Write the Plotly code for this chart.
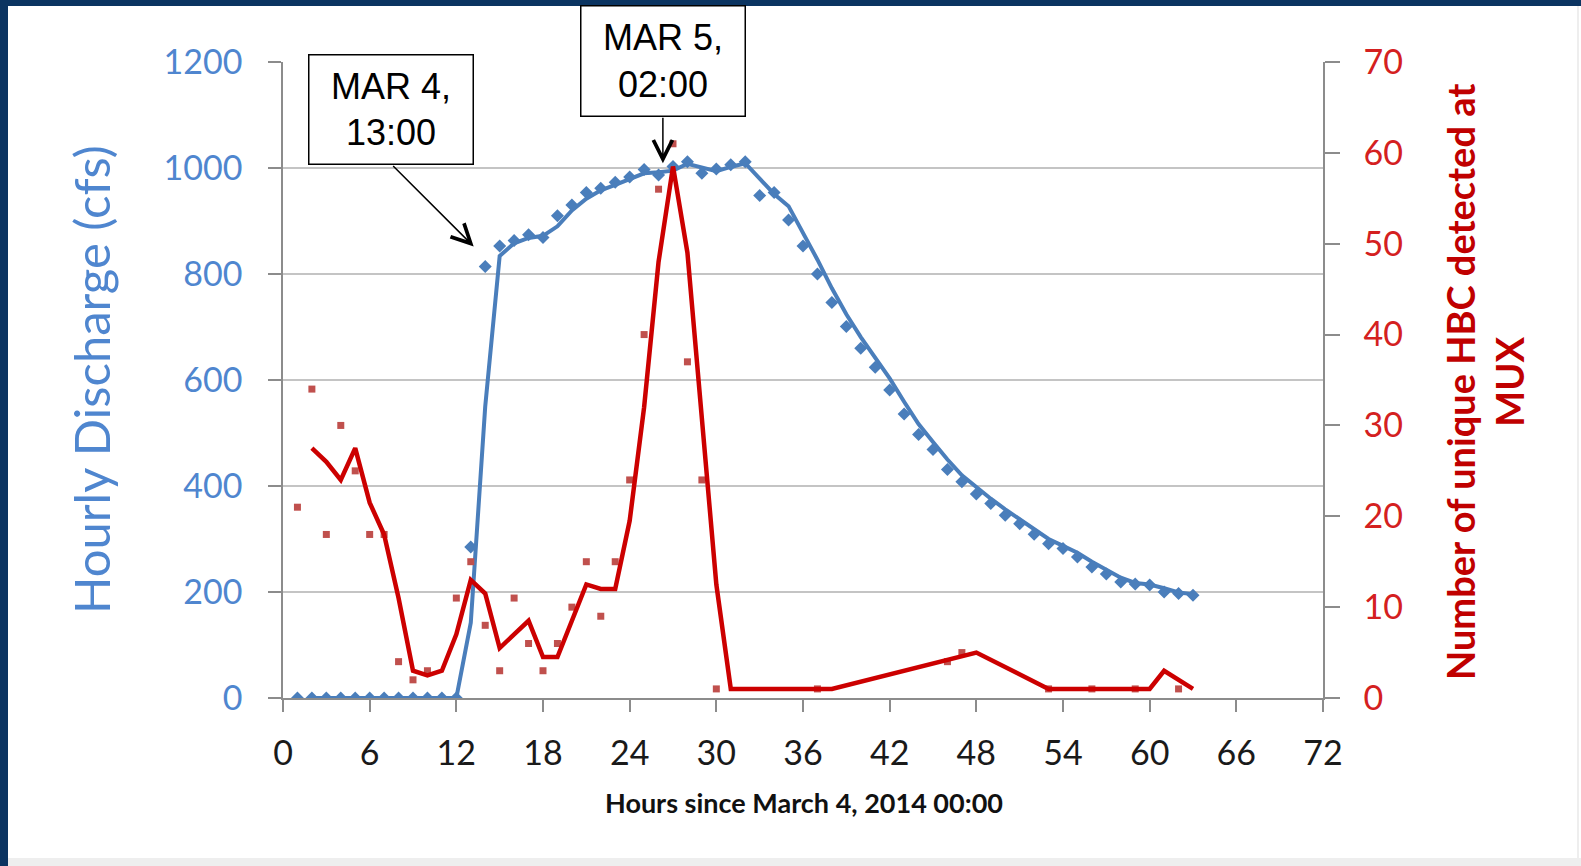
import plotly.graph_objects as go

# Hourly discharge (cfs), points every hour 1..63
discharge_hours = list(range(1, 64))
discharge_cfs = [
    0, 0, 0, 0, 0, 0, 0, 0, 0, 0, 0, 0,
    285, 814, 853, 863, 874, 869, 910, 930, 954, 962, 973, 983, 997, 987,
    1003, 1012, 990, 998, 1006, 1012, 948, 954, 902, 853, 800, 746, 701,
    660, 624, 581, 536, 497, 469, 431, 408, 385, 367, 345, 329, 309, 291,
    282, 266, 247, 234, 219, 215, 213, 200, 197, 194,
]

# 2-period moving average line of discharge
discharge_avg_hours = list(range(2, 64))
discharge_avg_cfs = [
    0, 0, 0, 0, 0, 0, 0, 0, 0, 0, 0,
    142, 550, 834, 858, 868, 872, 890, 920, 942, 958, 968, 978, 990, 992,
    995, 1008, 1001, 994, 1002, 1009, 980, 951, 928, 878, 827, 773, 724,
    681, 642, 603, 559, 517, 483, 450, 420, 397, 376, 356, 337, 319, 300,
    287, 274, 257, 241, 227, 217, 214, 207, 199, 196,
]

# Unique HBC detected at MUX
hbc_hours = [1, 2, 3, 4, 5, 6, 7, 8, 9, 10, 12, 13, 14, 15, 16, 17, 18, 19,
             20, 21, 22, 23, 24, 25, 26, 27, 28, 29, 30, 37, 46, 47, 53, 56,
             59, 62]
hbc_count = [21, 34, 18, 30, 25, 18, 18, 4, 2, 3, 11, 15, 8, 3, 11, 6, 3, 6,
             10, 15, 9, 15, 24, 40, 56, 61, 37, 24, 1, 1, 4, 5, 1, 1, 1, 1]

# moving average line of HBC counts
hbc_avg_hours = [2, 3, 4, 5, 6, 7, 8, 9, 10, 11, 12, 13, 14, 15, 16, 17, 18,
                 19, 20, 21, 22, 23, 24, 25, 26, 27, 28, 29, 30, 31, 37, 38,
                 48, 53, 56, 59, 60, 61, 63]
hbc_avg_count = [27.5, 26, 24, 27.5, 21.5, 18, 11, 3, 2.5, 3, 7, 13, 11.5,
                 5.5, 7, 8.5, 4.5, 4.5, 8.5, 12.5, 12, 12, 19.5, 32, 48, 58.5,
                 49, 30.5, 12.5, 1, 1, 1, 5, 1, 1, 1, 1, 3, 1]

W, H = 1581, 866
ML, MR, MT, MB = 283, 258, 62, 168
PW, PH = W - ML - MR, H - MT - MB


def px(x):
    return (x - ML) / PW


def py(y):
    return (H - MB - y) / PH


BLUE = "#4a7ebb"
BLUE_TXT = "#4f86cf"
RED = "#cc0000"
RED_PT = "#c0504d"
TICK_FONT = "Lato, Calibri, sans-serif"

fig = go.Figure()

fig.add_trace(go.Scatter(
    x=discharge_avg_hours, y=discharge_avg_cfs, mode="lines",
    line=dict(color=BLUE, width=4), showlegend=False,
))
fig.add_trace(go.Scatter(
    x=discharge_hours, y=discharge_cfs, mode="markers",
    marker=dict(symbol="diamond", size=10, color=BLUE), showlegend=False,
))
fig.add_trace(go.Scatter(
    x=hbc_hours, y=hbc_count, mode="markers", yaxis="y2",
    marker=dict(symbol="square", size=7, color=RED_PT), showlegend=False,
))
fig.add_trace(go.Scatter(
    x=hbc_avg_hours, y=hbc_avg_count, mode="lines", yaxis="y2",
    line=dict(color=RED, width=4.5), showlegend=False,
))

shapes = [
    dict(type="rect", xref="paper", yref="paper", x0=px(0), x1=px(W),
         y0=py(6), y1=py(0), fillcolor="#0b3461", line_width=0, layer="above"),
    dict(type="rect", xref="paper", yref="paper", x0=px(0), x1=px(8),
         y0=py(H), y1=py(0), fillcolor="#0b3461", line_width=0, layer="above"),
    dict(type="rect", xref="paper", yref="paper", x0=px(8), x1=px(W),
         y0=py(H), y1=py(858), fillcolor="#eeeeee", line_width=0),
    dict(type="line", xref="paper", yref="paper", x0=px(1578), x1=px(1578),
         y0=py(858), y1=py(6), line=dict(color="#dddddd", width=1)),
]

annotations = [
    dict(xref="paper", yref="paper", x=px(91), y=0.5, text="Hourly Discharge (cfs)",
         textangle=-90, showarrow=False, xanchor="center", yanchor="middle",
         font=dict(family=TICK_FONT, size=49, color=BLUE_TXT)),
    dict(xref="paper", yref="paper", x=px(1484), y=py(382),
         text="<b>Number of unique HBC detected at<br>MUX</b>",
         textangle=-90, showarrow=False, xanchor="center", yanchor="middle",
         font=dict(family=TICK_FONT, size=38, color="#c00000")),
    dict(xref="paper", yref="paper", x=px(804), y=py(803),
         text="<b>Hours since March 4, 2014 00:00</b>",
         showarrow=False, xanchor="center", yanchor="middle",
         font=dict(family=TICK_FONT, size=27, color="#111111")),
    dict(xref="paper", yref="paper", x=px(390.8), y=py(110), text="MAR 4,<br>13:00",
         showarrow=False, xanchor="center", yanchor="middle", width=163, height=108,
         bordercolor="black", borderwidth=1.5, borderpad=0, bgcolor="white",
         font=dict(family="Liberation Sans, Arial", size=36, color="black")),
    dict(xref="paper", yref="paper", x=px(663.3), y=py(60.5), text="MAR 5,<br>02:00",
         showarrow=False, xanchor="center", yanchor="middle", width=163, height=109,
         bordercolor="black", borderwidth=1.5, borderpad=0, bgcolor="white",
         font=dict(family="Liberation Sans, Arial", size=36, color="black")),
    dict(x=13.2, y=852, xref="x", yref="y", text="", showarrow=True,
         ax=-82, ay=-82, arrowhead=5, arrowsize=2.5, arrowwidth=1.5,
         arrowcolor="black", standoff=0),
    dict(x=26.3, y=1009, xref="x", yref="y", text="", showarrow=True,
         ax=0, ay=-47, arrowhead=5, arrowsize=2.5, arrowwidth=1.5,
         arrowcolor="black", standoff=0),
]

fig.update_layout(
    width=W, height=H,
    margin=dict(l=ML, r=MR, t=MT, b=MB, pad=0),
    paper_bgcolor="white", plot_bgcolor="white",
    showlegend=False,
    xaxis=dict(
        range=[0, 72], dtick=6, tick0=0, showgrid=False, zeroline=False,
        showline=True, linecolor="#8c8c8c", linewidth=1.5,
        ticks="outside", ticklen=12, tickcolor="#8c8c8c", tickwidth=1.5,
        ticklabelstandoff=12,
        tickfont=dict(family=TICK_FONT, size=34, color="#1a1a1a"),
    ),
    yaxis=dict(
        range=[0, 1200], dtick=200, tick0=0, showgrid=True,
        gridcolor="#c4c4c4", gridwidth=2, zeroline=False,
        showline=True, linecolor="#8c8c8c", linewidth=1.5,
        ticks="outside", ticklen=13, tickcolor="#8c8c8c", tickwidth=1.5,
        ticklabelstandoff=19,
        tickfont=dict(family=TICK_FONT, size=34, color=BLUE_TXT),
    ),
    yaxis2=dict(
        range=[0, 70], dtick=10, tick0=0, overlaying="y", side="right",
        showgrid=False, zeroline=False,
        showline=True, linecolor="#8c8c8c", linewidth=1.5,
        ticks="outside", ticklen=15, tickcolor="#8c8c8c", tickwidth=1.5,
        ticklabelstandoff=17,
        tickfont=dict(family=TICK_FONT, size=34, color="#d42020"),
    ),
    shapes=shapes,
    annotations=annotations,
)

fig.write_html(
    "out.html",
    config={"displayModeBar": False},
    post_script="document.body.style.margin='0';document.body.style.overflow='hidden';",
)
